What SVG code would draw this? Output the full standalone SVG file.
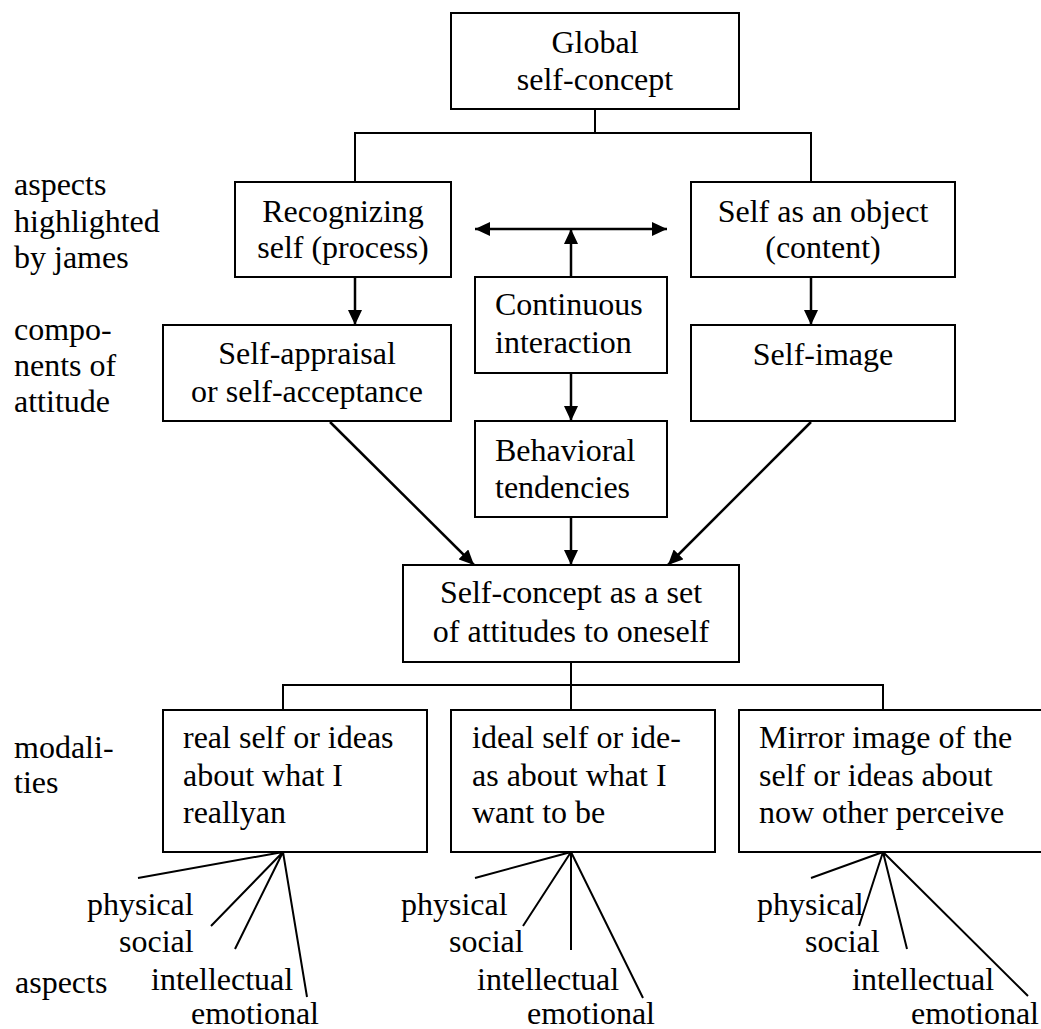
<svg xmlns="http://www.w3.org/2000/svg" width="1041" height="1029" viewBox="0 0 1041 1029">
  <style>
    .box { fill: #ffffff; stroke: #000000; stroke-width: 2; }
    .wire { fill: none; stroke: #000000; stroke-width: 2; }
    .arrow { fill: none; stroke: #000000; stroke-width: 2.5; marker-end: url(#head); }
    .t { font-family: "Liberation Serif", "Times New Roman", "DejaVu Serif", serif; font-size: 32px; fill: #000000; }
    .c { text-anchor: middle; }
  </style>
  <defs>
    <marker id="head" markerUnits="userSpaceOnUse" viewBox="0 0 15 14" refX="15" refY="7" markerWidth="15" markerHeight="14" orient="auto-start-reverse">
      <path d="M0,0 L15,7 L0,14 z" fill="#000000"/>
    </marker>
  </defs>

  <rect width="1041" height="1029" fill="#ffffff"/>

  <!-- side labels -->
  <g id="side-labels" font-family="Liberation Serif, serif">
    <text class="t" x="14" y="195">aspects</text>
    <text class="t" x="14" y="232">highlighted</text>
    <text class="t" x="14" y="268">by james</text>
    <text class="t" x="14" y="340">compo-</text>
    <text class="t" x="14" y="376">nents of</text>
    <text class="t" x="14" y="412">attitude</text>
    <text class="t" x="14" y="758">modali-</text>
    <text class="t" x="14" y="793">ties</text>
    <text class="t" x="15" y="993">aspects</text>
  </g>

  <!-- connectors -->
  <g id="connectors">
    <polyline class="wire" points="595,109 595,133"/>
    <polyline class="wire" points="355,182 355,133 811,133 811,182"/>
    <line class="arrow" x1="355" y1="277" x2="355" y2="325"/>
    <line class="arrow" x1="811" y1="277" x2="811" y2="325"/>
    <line class="arrow" x1="571" y1="229" x2="475" y2="229"/>
    <line class="arrow" x1="571" y1="229" x2="667" y2="229"/>
    <line class="arrow" x1="571" y1="277" x2="571" y2="229"/>
    <line class="arrow" x1="571" y1="373" x2="571" y2="421"/>
    <line class="arrow" x1="571" y1="517" x2="571" y2="565"/>
    <line class="arrow" x1="330" y1="422" x2="474" y2="565"/>
    <line class="arrow" x1="811" y1="422" x2="668" y2="565"/>
    <polyline class="wire" points="571,662 571,710"/>
    <polyline class="wire" points="283,710 283,685 883,685 883,710"/>
    <!-- aspect fans -->
    <path class="wire" d="M283,852 L138,878 M283,852 L211,926 M283,852 L235,949 M283,852 L307,997"/>
    <path class="wire" d="M571,852 L475,878 M571,852 L523,926 M571,852 L571,950 M571,852 L643,998"/>
    <path class="wire" d="M883,852 L811,878 M883,852 L859,926 M883,852 L907,949 M883,852 L1028,996"/>
  </g>

  <g id="global">
    <rect class="box" x="451" y="13" width="288" height="96"/>
    <text class="t c" x="595" y="53">Global</text>
    <text class="t c" x="595" y="90">self-concept</text>
  </g>

  <g id="recognizing">
    <rect class="box" x="235" y="182" width="216" height="95"/>
    <text class="t c" x="343" y="222">Recognizing</text>
    <text class="t c" x="343" y="258">self (process)</text>
  </g>

  <g id="object">
    <rect class="box" x="691" y="182" width="264" height="95"/>
    <text class="t c" x="823" y="222">Self as an object</text>
    <text class="t c" x="823" y="258">(content)</text>
  </g>

  <g id="interaction">
    <rect class="box" x="475" y="277" width="192" height="96"/>
    <text class="t" x="495" y="315">Continuous</text>
    <text class="t" x="495" y="353">interaction</text>
  </g>

  <g id="appraisal">
    <rect class="box" x="163" y="325" width="288" height="96"/>
    <text class="t c" x="307" y="364">Self-appraisal</text>
    <text class="t c" x="307" y="402">or self-acceptance</text>
  </g>

  <g id="self-image">
    <rect class="box" x="691" y="325" width="264" height="96"/>
    <text class="t c" x="823" y="365">Self-image</text>
  </g>

  <g id="behavioral">
    <rect class="box" x="475" y="421" width="192" height="96"/>
    <text class="t" x="495" y="461">Behavioral</text>
    <text class="t" x="495" y="498">tendencies</text>
  </g>

  <g id="attitudes">
    <rect class="box" x="403" y="565" width="336" height="97"/>
    <text class="t c" x="571" y="603">Self-concept as a set</text>
    <text class="t c" x="571" y="642">of attitudes to oneself</text>
  </g>

  <g id="real-self">
    <rect class="box" x="163" y="710" width="264" height="142"/>
    <text class="t" x="183" y="748">real self or ideas</text>
    <text class="t" x="183" y="786">about what I</text>
    <text class="t" x="183" y="823">reallyan</text>
    <text class="t" x="87" y="915">physical</text>
    <text class="t" x="119" y="952">social</text>
    <text class="t" x="151" y="990">intellectual</text>
    <text class="t" x="191" y="1024">emotional</text>
  </g>

  <g id="ideal-self">
    <rect class="box" x="451" y="710" width="264" height="142"/>
    <text class="t" x="472" y="748">ideal self or ide-</text>
    <text class="t" x="472" y="786">as about what I</text>
    <text class="t" x="472" y="823">want to be</text>
    <text class="t" x="401" y="915">physical</text>
    <text class="t" x="449" y="952">social</text>
    <text class="t" x="477" y="990">intellectual</text>
    <text class="t" x="527" y="1024">emotional</text>
  </g>

  <g id="mirror-self">
    <rect class="box" x="739" y="710" width="312" height="142"/>
    <text class="t" x="759" y="748">Mirror image of the</text>
    <text class="t" x="759" y="786">self or ideas about</text>
    <text class="t" x="759" y="823">now other perceive</text>
    <text class="t" x="757" y="915">physical</text>
    <text class="t" x="805" y="952">social</text>
    <text class="t" x="852" y="990">intellectual</text>
    <text class="t" x="911" y="1024">emotional</text>
  </g>
</svg>
